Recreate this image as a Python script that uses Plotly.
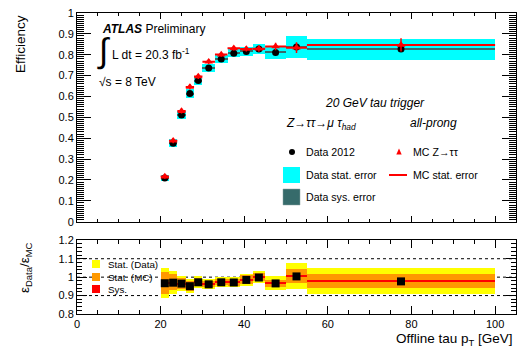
import plotly.graph_objects as go

# ---------------- data ----------------
bin_lo = [20, 22, 24, 26, 28, 30, 33, 36, 39, 42, 45, 50, 55]
bin_hi = [22, 24, 26, 28, 30, 33, 36, 39, 42, 45, 50, 55, 100]

eff_data = [0.209, 0.376, 0.511, 0.614, 0.676, 0.737, 0.779, 0.807, 0.816, 0.827, 0.811, 0.837, 0.827]
eff_data_stat = [0.015, 0.019, 0.021, 0.022, 0.021, 0.019, 0.019, 0.019, 0.022, 0.024, 0.031, 0.053, 0.050]
eff_data_sys = [0.005, 0.005, 0.005, 0.005, 0.005, 0.005, 0.005, 0.005, 0.005, 0.005, 0.005, 0.005, 0.005]

eff_mc = [0.216, 0.388, 0.530, 0.646, 0.696, 0.767, 0.801, 0.831, 0.828, 0.829, 0.840, 0.834, 0.847]
eff_mc_stat = [0.010, 0.012, 0.012, 0.013, 0.012, 0.011, 0.011, 0.011, 0.013, 0.015, 0.018, 0.026, 0.032]

ratio = [0.967, 0.970, 0.965, 0.951, 0.972, 0.961, 0.972, 0.971, 0.985, 0.998, 0.966, 1.004, 0.977]
ratio_stat_data = [0.080, 0.061, 0.041, 0.038, 0.033, 0.025, 0.027, 0.027, 0.032, 0.034, 0.038, 0.072, 0.070]
ratio_stat_mc = [0.059, 0.043, 0.029, 0.027, 0.021, 0.018, 0.018, 0.018, 0.023, 0.023, 0.019, 0.037, 0.039]
ratio_sys = [0.004, 0.004, 0.004, 0.004, 0.004, 0.004, 0.004, 0.004, 0.004, 0.004, 0.004, 0.004, 0.004]

top_yticks = [0, 0.1, 0.2, 0.3, 0.4, 0.5, 0.6, 0.7, 0.8, 0.9, 1]
top_yticklabels = ["0", "0.1", "0.2", "0.3", "0.4", "0.5", "0.6", "0.7", "0.8", "0.9", "1"]
bot_yticks = [0.8, 0.9, 1.0, 1.1, 1.2]
bot_yticklabels = ["0.8", "0.9", "1", "1.1", "1.2"]
xticks = [0, 20, 40, 60, 80, 100]
xticklabels = ["0", "20", "40", "60", "80", "100"]

# ---------------- layout helpers ----------------
W, H = 526, 352
L, R, T, B = 77, 10, 13, 38
FONT = "Liberation Sans, Arial, Helvetica, sans-serif"


def px(xp):
    return (xp - L) / (W - L - R)


def py(yp):
    return (H - B - yp) / (H - T - B)


centers = [(a + b) / 2 for a, b in zip(bin_lo, bin_hi)]
widths = [b - a for a, b in zip(bin_lo, bin_hi)]
halfw = [w / 2 for w in widths]


def band(vals, half, color, xa, ya):
    return go.Bar(
        x=centers, y=[2 * h for h in half], base=[v - h for v, h in zip(vals, half)],
        width=widths, marker=dict(color=color, line=dict(width=0)),
        xaxis=xa, yaxis=ya, showlegend=False, hoverinfo="skip",
    )


fig = go.Figure()
# top panel
fig.add_trace(band(eff_data, eff_data_stat, "#00ffff", "x", "y"))
fig.add_trace(band(eff_data, eff_data_sys, "#366b6b", "x", "y"))
fig.add_trace(go.Scatter(
    x=centers, y=eff_data, mode="markers",
    marker=dict(symbol="circle", size=7, color="black"),
    xaxis="x", yaxis="y", showlegend=False,
))
fig.add_trace(go.Scatter(
    x=centers, y=eff_mc, mode="markers",
    marker=dict(symbol="triangle-up", size=7.5, color="#ff0000"),
    error_x=dict(type="data", array=halfw, color="#ff0000", thickness=2, width=0),
    error_y=dict(type="data", array=eff_mc_stat, color="#ff0000", thickness=1.5, width=0),
    xaxis="x", yaxis="y", showlegend=False,
))
# bottom panel
fig.add_trace(band(ratio, ratio_stat_data, "#ffff00", "x2", "y2"))
fig.add_trace(band(ratio, ratio_stat_mc, "#ff9900", "x2", "y2"))
fig.add_trace(band(ratio, ratio_sys, "#ff0000", "x2", "y2"))
fig.add_trace(go.Scatter(
    x=centers, y=ratio, mode="markers",
    marker=dict(symbol="square", size=8, color="black"),
    xaxis="x2", yaxis="y2", showlegend=False,
))

top_dom = [py(221.7), 1.0]
bot_dom = [0.0, py(240.3)]

axis_common = dict(
    showline=True, linecolor="black", linewidth=1, mirror="allticks",
    ticks="inside", tickcolor="black", tickwidth=1,
    showgrid=False, zeroline=False,
    tickfont=dict(family=FONT, size=11, color="black"),
)

fig.update_layout(
    width=W, height=H,
    margin=dict(l=L, r=R, t=T, b=B, autoexpand=False),
    paper_bgcolor="white", plot_bgcolor="white",
    barmode="overlay", bargap=0,
    showlegend=False,
    font=dict(family=FONT, color="black"),
    xaxis=dict(domain=[0, 1], range=[0, 105], anchor="y",
               tickvals=xticks, showticklabels=False, ticklen=6,
               minor=dict(dtick=5, ticks="inside", ticklen=3, tickcolor="black"),
               **axis_common),
    yaxis=dict(domain=top_dom, range=[0, 1], anchor="x",
               tickvals=top_yticks, ticktext=top_yticklabels, ticklen=14,
               minor=dict(dtick=0.01, ticks="inside", ticklen=7, tickcolor="black"),
               **axis_common),
    xaxis2=dict(domain=[0, 1], range=[0, 105], anchor="y2",
                tickvals=xticks, ticktext=xticklabels, ticklen=8,
                minor=dict(dtick=5, ticks="inside", ticklen=4, tickcolor="black"),
                **axis_common),
    yaxis2=dict(domain=bot_dom, range=[0.8, 1.2], anchor="x2",
                tickvals=bot_yticks, ticktext=bot_yticklabels, ticklen=10,
                minor=dict(dtick=0.02, ticks="inside", ticklen=5, tickcolor="black"),
                **axis_common),
)

shapes = []
# dotted reference lines in ratio panel
for yv in [0.9, 1.0, 1.1]:
    shapes.append(dict(type="line", xref="x2 domain", yref="y2", x0=0, x1=1, y0=yv, y1=yv,
                       line=dict(color="black", width=1, dash="dot"), layer="below"))

# top legend glyphs
shapes.append(dict(type="circle", xref="paper", yref="paper",
                   x0=px(289), x1=px(295), y0=py(155), y1=py(149),
                   fillcolor="black", line=dict(width=0)))
shapes.append(dict(type="path", xref="paper", yref="paper",
                   path=f"M {px(399)},{py(148.5)} L {px(396.3)},{py(154.5)} L {px(401.7)},{py(154.5)} Z",
                   fillcolor="#ff0000", line=dict(width=0)))
shapes.append(dict(type="rect", xref="paper", yref="paper",
                   x0=px(283), x1=px(300), y0=py(183), y1=py(167),
                   fillcolor="#00ffff", line=dict(width=0)))
shapes.append(dict(type="line", xref="paper", yref="paper",
                   x0=px(389), x1=px(407), y0=py(175), y1=py(175),
                   line=dict(color="#ff0000", width=2)))
shapes.append(dict(type="rect", xref="paper", yref="paper",
                   x0=px(283), x1=px(300), y0=py(205), y1=py(189),
                   fillcolor="#366b6b", line=dict(width=0.5, color="#8aa0a0")))
# bottom legend swatches
for y0p, y1p, col in [(260, 268, "#ffff00"), (273, 281, "#ff9900"), (285, 293, "#ff0000")]:
    shapes.append(dict(type="rect", xref="paper", yref="paper",
                       x0=px(92), x1=px(100), y0=py(y1p), y1=py(y0p),
                       fillcolor=col, line=dict(width=0)))
fig.update_layout(shapes=shapes)


def txt(x, y, text, size, xanchor="left", yanchor="middle", angle=0, family=FONT):
    return dict(x=px(x), y=py(y), xref="paper", yref="paper", text=text,
                showarrow=False, xanchor=xanchor, yanchor=yanchor, textangle=angle,
                font=dict(family=family, size=size, color="black"))


ann = [
    txt(100, 29, "<b><i>ATLAS</i></b> Preliminary", 12),
    txt(103, 50, "∫", 34, xanchor="center"),
    txt(110, 54, "L dt = 20.3 fb<sup>-1</sup>", 12),
    txt(97, 82, "√s = 8 TeV", 12),
    txt(323, 103, "<i>20 GeV tau trigger</i>", 12),
    txt(284, 124, "<i>Z→ττ→μ τ<sub>had</sub></i>", 12),
    txt(408, 123, "<i>all-prong</i>", 12),
    txt(304, 152, "Data 2012", 10.6),
    txt(411, 152, "MC Z→ττ", 10.6),
    txt(304, 175, "Data stat. error", 10.6),
    txt(411, 175, "MC stat. error", 10.6),
    txt(304, 197, "Data sys. error", 10.6),
    txt(106, 264, "Stat. (Data)", 9.8),
    txt(106, 277, "Stat. (MC)", 9.8),
    txt(106, 289, "Sys.", 9.8),
    txt(20, 13, "Efficiency", 13.5, xanchor="center", yanchor="top", angle=-90),
    txt(25, 268, "ε<sub>Data</sub>/ε<sub>MC</sub>", 13.5, xanchor="center", angle=-90),
    txt(515, 340, "Offline tau p<sub>T</sub> [GeV]", 13.5, xanchor="right"),
]
fig.update_layout(annotations=ann)

fig.write_html(
    "out.html",
    config={"displayModeBar": False},
    post_script="document.body.style.margin='0';document.body.style.overflow='hidden';",
)
